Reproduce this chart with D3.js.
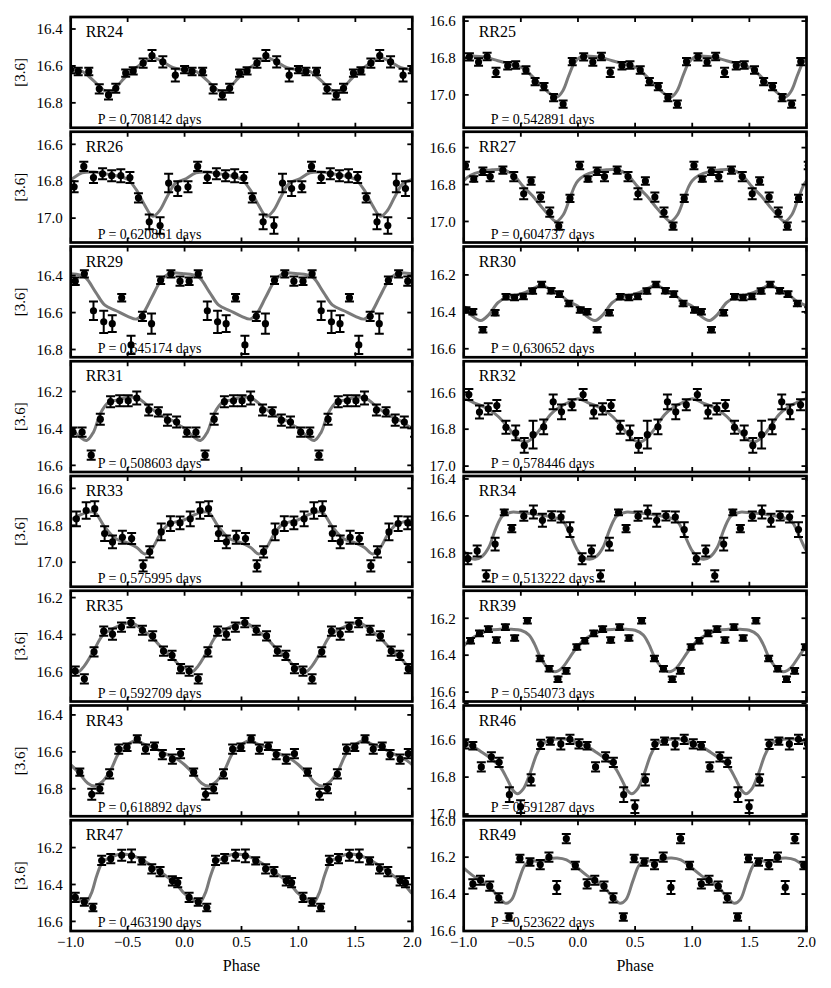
<!DOCTYPE html>
<html>
<head>
<meta charset="utf-8">
<script src="https://cdn.jsdelivr.net/npm/d3@7"></script>
<style>
  body { margin: 0; background: #fff; }
  svg text { font-family: "Liberation Serif", "DejaVu Serif", serif; fill: #000; }
</style>
</head>
<body>
<svg id="chart"></svg>
<script>
const width = 831;
const height = 988;

// panel order: row by row, left then right
const stars = ['RR24', 'RR25', 'RR26', 'RR27', 'RR29', 'RR30', 'RR31', 'RR32',
    'RR33', 'RR34', 'RR35', 'RR39', 'RR43', 'RR46', 'RR47', 'RR49'];
const periods = ['0.708142', '0.542891', '0.620861', '0.604737', '0.645174', '0.630652',
    '0.508603', '0.578446', '0.575995', '0.513222', '0.592709', '0.554073',
    '0.618892', '0.591287', '0.463190', '0.523622'];
// brightest magnitude shown at the top of each panel (each panel spans 0.6 mag)
const magTop = [16.335, 16.578, 16.532, 16.514, 16.242, 16.046, 16.036, 16.432,
    16.533, 16.384, 16.163, 16.051, 16.349, 16.412, 16.052, 16.0];
const magSpan = 0.6;
const phaseTicks = [-1, -0.5, 0, 0.5, 1, 1.5, 2];
const magTicks = [16.0, 16.2, 16.4, 16.6, 16.8, 17.0, 17.2];

// observed phases (one cycle) per star
const phaseData = [
    [0.0, 0.066, 0.159, 0.251, 0.332, 0.396, 0.483, 0.549, 0.636, 0.714, 0.809, 0.919],
    [0.05, 0.13, 0.205, 0.283, 0.385, 0.455, 0.545, 0.625, 0.703, 0.787, 0.87, 0.95],
    [0.03, 0.115, 0.2, 0.28, 0.36, 0.44, 0.52, 0.595, 0.69, 0.785, 0.86, 0.94],
    [0.015, 0.088, 0.168, 0.232, 0.343, 0.438, 0.525, 0.59, 0.673, 0.753, 0.832, 0.93],
    [0.04, 0.12, 0.2, 0.29, 0.365, 0.448, 0.53, 0.63, 0.71, 0.79, 0.88, 0.96],
    [0.02, 0.08, 0.168, 0.275, 0.37, 0.445, 0.522, 0.603, 0.682, 0.765, 0.838, 0.92],
    [0.02, 0.10, 0.18, 0.26, 0.35, 0.43, 0.505, 0.58, 0.685, 0.77, 0.85, 0.93],
    [0.045, 0.138, 0.215, 0.29, 0.37, 0.455, 0.53, 0.607, 0.7, 0.783, 0.856, 0.948],
    [0.05, 0.136, 0.211, 0.298, 0.367, 0.454, 0.535, 0.636, 0.694, 0.795, 0.876, 0.96],
    [0.036, 0.118, 0.197, 0.275, 0.355, 0.421, 0.526, 0.61, 0.689, 0.77, 0.852, 0.93],
    [0.04, 0.12, 0.205, 0.29, 0.367, 0.446, 0.529, 0.63, 0.72, 0.815, 0.89, 0.965],
    [0.06, 0.138, 0.216, 0.286, 0.365, 0.446, 0.557, 0.669, 0.748, 0.825, 0.896, 0.99],
    [0.08, 0.185, 0.255, 0.342, 0.422, 0.495, 0.585, 0.657, 0.736, 0.805, 0.893, 0.965],
    [0.009, 0.08, 0.154, 0.242, 0.31, 0.4, 0.498, 0.59, 0.673, 0.758, 0.85, 0.93],
    [0.04, 0.12, 0.195, 0.272, 0.352, 0.448, 0.534, 0.625, 0.712, 0.785, 0.893, 0.94],
    [0.08, 0.147, 0.228, 0.307, 0.397, 0.492, 0.58, 0.67, 0.746, 0.814, 0.898, 0.977]
];
// [3.6] magnitudes
const magData = [
    [16.62, 16.63, 16.63, 16.724, 16.757, 16.721, 16.639, 16.627, 16.585, 16.544, 16.578, 16.65],
    [16.794, 16.822, 16.792, 16.878, 16.842, 16.838, 16.865, 16.928, 16.955, 17.015, 17.05, 16.82],
    [16.83, 16.72, 16.78, 16.76, 16.77, 16.77, 16.78, 16.89, 17.02, 17.04, 16.81, 16.84],
    [16.697, 16.77, 16.728, 16.757, 16.722, 16.757, 16.85, 16.781, 16.868, 16.95, 17.025, 16.875],
    [16.43, 16.39, 16.59, 16.65, 16.66, 16.52, 16.775, 16.62, 16.66, 16.425, 16.39, 16.43],
    [16.39, 16.40, 16.497, 16.405, 16.318, 16.322, 16.317, 16.287, 16.252, 16.286, 16.304, 16.355],
    [16.42, 16.42, 16.545, 16.35, 16.255, 16.25, 16.25, 16.235, 16.30, 16.31, 16.355, 16.365],
    [16.612, 16.707, 16.69, 16.672, 16.79, 16.82, 16.888, 16.83, 16.788, 16.652, 16.706, 16.668],
    [16.765, 16.72, 16.71, 16.845, 16.89, 16.865, 16.872, 17.02, 16.944, 16.836, 16.791, 16.787],
    [16.832, 16.79, 16.925, 16.753, 16.581, 16.669, 16.602, 16.579, 16.624, 16.6, 16.606, 16.674],
    [16.598, 16.64, 16.494, 16.382, 16.398, 16.36, 16.336, 16.377, 16.408, 16.49, 16.513, 16.585],
    [16.322, 16.282, 16.259, 16.318, 16.248, 16.307, 16.213, 16.418, 16.473, 16.53, 16.485, 16.356],
    [16.71, 16.83, 16.80, 16.72, 16.585, 16.575, 16.53, 16.585, 16.57, 16.615, 16.64, 16.61],
    [16.62, 16.63, 16.745, 16.69, 16.72, 16.895, 16.96, 16.815, 16.622, 16.605, 16.62, 16.595],
    [16.47, 16.495, 16.525, 16.27, 16.26, 16.242, 16.245, 16.272, 16.315, 16.33, 16.38, 16.39],
    [16.345, 16.325, 16.357, 16.42, 16.524, 16.207, 16.226, 16.24, 16.2, 16.364, 16.1, 16.245]
];
// photometric errors (mag)
const errData = [
    [0.02, 0.02, 0.02, 0.025, 0.025, 0.025, 0.02, 0.02, 0.025, 0.03, 0.03, 0.035],
    [0.02, 0.02, 0.02, 0.025, 0.02, 0.02, 0.02, 0.02, 0.02, 0.02, 0.02, 0.02],
    [0.03, 0.025, 0.03, 0.03, 0.03, 0.035, 0.03, 0.025, 0.04, 0.045, 0.05, 0.04],
    [0.02, 0.015, 0.02, 0.025, 0.02, 0.025, 0.03, 0.02, 0.025, 0.025, 0.02, 0.02],
    [0.02, 0.02, 0.05, 0.06, 0.045, 0.02, 0.05, 0.025, 0.055, 0.02, 0.02, 0.025],
    [0.015, 0.015, 0.015, 0.015, 0.015, 0.015, 0.015, 0.015, 0.015, 0.015, 0.015, 0.015],
    [0.025, 0.025, 0.025, 0.03, 0.03, 0.03, 0.03, 0.035, 0.03, 0.025, 0.03, 0.03],
    [0.03, 0.035, 0.03, 0.03, 0.035, 0.04, 0.04, 0.075, 0.04, 0.04, 0.04, 0.03],
    [0.04, 0.045, 0.04, 0.04, 0.035, 0.035, 0.03, 0.03, 0.03, 0.045, 0.04, 0.035],
    [0.03, 0.03, 0.03, 0.035, 0.015, 0.02, 0.025, 0.035, 0.035, 0.025, 0.03, 0.04],
    [0.025, 0.025, 0.025, 0.025, 0.03, 0.025, 0.025, 0.025, 0.025, 0.025, 0.025, 0.025],
    [0.015, 0.015, 0.015, 0.015, 0.015, 0.015, 0.015, 0.015, 0.015, 0.015, 0.015, 0.015],
    [0.02, 0.03, 0.025, 0.025, 0.025, 0.02, 0.02, 0.025, 0.02, 0.025, 0.025, 0.025],
    [0.025, 0.02, 0.025, 0.025, 0.025, 0.04, 0.035, 0.03, 0.025, 0.02, 0.03, 0.025],
    [0.025, 0.02, 0.02, 0.025, 0.025, 0.03, 0.035, 0.02, 0.025, 0.025, 0.025, 0.025],
    [0.025, 0.025, 0.025, 0.025, 0.02, 0.02, 0.02, 0.025, 0.025, 0.035, 0.025, 0.02]
];
// template fit: [phase, mag] over one cycle
const fitData = [
    [[0.0, 16.62], [0.1, 16.63], [0.2, 16.68], [0.3, 16.735], [0.36, 16.74], [0.45, 16.68], [0.55, 16.62], [0.65, 16.58], [0.72, 16.555], [0.8, 16.575], [0.9, 16.61]],
    [[0.02, 16.795], [0.1, 16.79], [0.18, 16.795], [0.3, 16.815], [0.42, 16.835], [0.52, 16.855], [0.6, 16.9], [0.68, 16.95], [0.76, 16.995], [0.82, 17.01], [0.87, 16.975], [0.92, 16.895], [0.97, 16.825]],
    [[0.0, 16.79], [0.1, 16.755], [0.2, 16.75], [0.3, 16.76], [0.4, 16.77], [0.5, 16.79], [0.58, 16.85], [0.65, 16.93], [0.72, 16.99], [0.78, 16.96], [0.85, 16.88], [0.92, 16.81]],
    [[0.0, 16.78], [0.06, 16.75], [0.15, 16.73], [0.25, 16.72], [0.34, 16.72], [0.43, 16.745], [0.52, 16.81], [0.6, 16.86], [0.68, 16.92], [0.75, 16.97], [0.81, 17.0], [0.87, 16.965], [0.92, 16.89], [0.97, 16.81]],
    [[0.0, 16.39], [0.07, 16.395], [0.13, 16.41], [0.22, 16.49], [0.3, 16.56], [0.4, 16.59], [0.5, 16.62], [0.58, 16.635], [0.64, 16.6], [0.71, 16.52], [0.79, 16.43], [0.86, 16.39], [0.93, 16.385]],
    [[0.0, 16.37], [0.07, 16.42], [0.15, 16.447], [0.22, 16.415], [0.3, 16.35], [0.38, 16.32], [0.46, 16.31], [0.54, 16.295], [0.62, 16.27], [0.68, 16.255], [0.76, 16.28], [0.84, 16.305], [0.92, 16.345]],
    [[0.0, 16.40], [0.07, 16.44], [0.14, 16.465], [0.2, 16.42], [0.26, 16.32], [0.33, 16.26], [0.42, 16.245], [0.52, 16.23], [0.6, 16.24], [0.7, 16.29], [0.8, 16.33], [0.9, 16.36], [0.96, 16.385]],
    [[0.0, 16.635], [0.1, 16.66], [0.2, 16.685], [0.3, 16.73], [0.4, 16.8], [0.47, 16.85], [0.54, 16.87], [0.6, 16.85], [0.68, 16.79], [0.76, 16.72], [0.84, 16.68], [0.92, 16.655]],
    [[0.0, 16.77], [0.08, 16.745], [0.15, 16.73], [0.21, 16.73], [0.3, 16.81], [0.39, 16.87], [0.5, 16.895], [0.58, 16.92], [0.65, 16.955], [0.71, 16.93], [0.78, 16.855], [0.85, 16.8], [0.93, 16.78]],
    [[0.0, 16.79], [0.05, 16.825], [0.1, 16.835], [0.16, 16.82], [0.22, 16.77], [0.28, 16.67], [0.34, 16.6], [0.42, 16.58], [0.52, 16.585], [0.62, 16.59], [0.72, 16.6], [0.8, 16.61], [0.87, 16.63], [0.93, 16.7]],
    [[0.0, 16.58], [0.06, 16.605], [0.12, 16.57], [0.2, 16.49], [0.28, 16.405], [0.38, 16.365], [0.46, 16.345], [0.53, 16.335], [0.62, 16.37], [0.72, 16.42], [0.82, 16.485], [0.9, 16.53], [0.96, 16.57]],
    [[0.0, 16.35], [0.07, 16.31], [0.14, 16.285], [0.22, 16.265], [0.32, 16.26], [0.42, 16.26], [0.5, 16.265], [0.57, 16.29], [0.62, 16.34], [0.67, 16.41], [0.73, 16.465], [0.8, 16.49], [0.86, 16.47], [0.93, 16.41]],
    [[0.0, 16.67], [0.08, 16.72], [0.15, 16.77], [0.21, 16.785], [0.28, 16.76], [0.35, 16.7], [0.42, 16.61], [0.49, 16.565], [0.57, 16.54], [0.65, 16.56], [0.74, 16.58], [0.83, 16.61], [0.92, 16.635]],
    [[0.0, 16.615], [0.08, 16.635], [0.16, 16.665], [0.24, 16.7], [0.32, 16.745], [0.38, 16.81], [0.43, 16.87], [0.47, 16.89], [0.52, 16.865], [0.58, 16.78], [0.64, 16.675], [0.7, 16.615], [0.8, 16.595], [0.9, 16.595]],
    [[0.0, 16.45], [0.07, 16.48], [0.13, 16.5], [0.18, 16.45], [0.23, 16.35], [0.28, 16.28], [0.36, 16.25], [0.45, 16.235], [0.55, 16.245], [0.65, 16.275], [0.75, 16.315], [0.85, 16.36], [0.93, 16.4]],
    [[0.0, 16.26], [0.08, 16.3], [0.16, 16.33], [0.24, 16.37], [0.31, 16.42], [0.37, 16.45], [0.42, 16.43], [0.48, 16.33], [0.54, 16.24], [0.6, 16.22], [0.67, 16.225], [0.74, 16.21], [0.82, 16.205], [0.9, 16.215], [0.96, 16.24]]
];

// layout
const colLeft = [70.7, 463.7];
const colWidth = [341.6, 342.8];
const firstTop = 17;
const rowStep = 114.75;
const panelH = 110.75;
const fmt = d3.format('.1f');
const serif = '"Liberation Serif", "DejaVu Serif", serif';

const svg = d3.select('#chart')
    .attr('width', width)
    .attr('height', height)
    .attr('font-family', serif);
svg.append('rect')
    .attr('width', width)
    .attr('height', height)
    .attr('fill', '#fff');
const defs = svg.append('defs');

const line = d3.line().curve(d3.curveCatmullRom.alpha(0.5));

stars.forEach((name, i) => {
    const col = i % 2;
    const row = Math.floor(i / 2);
    const x0 = colLeft[col];
    const w = colWidth[col];
    const y0 = firstTop + row * rowStep;

    const x = d3.scaleLinear().domain([-1, 2]).range([x0, x0 + w]);
    const y = d3.scaleLinear().domain([magTop[i], magTop[i] + magSpan]).range([y0, y0 + panelH]);

    defs.append('clipPath')
        .attr('id', `clip${i}`)
        .append('rect')
        .attr('x', x0)
        .attr('y', y0)
        .attr('width', w)
        .attr('height', panelH);

    const g = svg.append('g').classed('panel', true);

    // labels inside panel
    g.append('text')
        .attr('x', x0 + 15)
        .attr('y', y0 + 20)
        .style('font-size', '16px')
        .text(name);
    g.append('text')
        .attr('x', x0 + 27)
        .attr('y', y0 + panelH - 4)
        .style('font-size', '14px')
        .text(`P = ${periods[i]} days`);

    const plot = g.append('g').attr('clip-path', `url(#clip${i})`);

    // template curve repeated over the phase range
    const knots = [];
    [-2, -1, 0, 1, 2].forEach(k => {
        fitData[i].forEach(([p, m]) => {
            if (p + k > -1.4 && p + k < 2.4) {
                knots.push([p + k, m]);
            }
        });
    });
    plot.append('path')
        .attr('d', line(knots.map(([p, m]) => [x(p), y(m)])))
        .attr('fill', 'none')
        .attr('stroke', '#7a7a7a')
        .attr('stroke-width', 3);

    // points with error bars, folded three times
    const pts = [];
    [-1, 0, 1, 2].forEach(k => {
        phaseData[i].forEach((p, j) => {
            if (p + k >= -1.03 && p + k <= 2.03) {
                pts.push({ p: p + k, m: magData[i][j], e: errData[i][j] });
            }
        });
    });
    const pt = plot.selectAll('g.pt')
        .data(pts)
        .enter().append('g')
        .classed('pt', true);
    pt.append('line')
        .attr('x1', d => x(d.p))
        .attr('x2', d => x(d.p))
        .attr('y1', d => y(d.m - d.e))
        .attr('y2', d => y(d.m + d.e))
        .attr('stroke', '#000')
        .attr('stroke-width', 2);
    [-1, 1].forEach(s => {
        pt.append('line')
            .attr('x1', d => x(d.p) - 4.5)
            .attr('x2', d => x(d.p) + 4.5)
            .attr('y1', d => y(d.m + s * d.e))
            .attr('y2', d => y(d.m + s * d.e))
            .attr('stroke', '#000')
            .attr('stroke-width', 2);
    });
    pt.append('circle')
        .attr('cx', d => x(d.p))
        .attr('cy', d => y(d.m))
        .attr('r', 3.6)
        .attr('fill', '#000');

    // ticks
    const yt = magTicks.filter(v => v >= magTop[i] - 0.012 && v <= magTop[i] + magSpan + 0.005);
    yt.forEach(v => {
        g.append('line')
            .attr('x1', x0).attr('x2', x0 + 5)
            .attr('y1', y(v)).attr('y2', y(v))
            .attr('stroke', '#000').attr('stroke-width', 1.8);
        g.append('line')
            .attr('x1', x0 + w - 5).attr('x2', x0 + w)
            .attr('y1', y(v)).attr('y2', y(v))
            .attr('stroke', '#000').attr('stroke-width', 1.8);
        g.append('text')
            .attr('x', x0 - 8)
            .attr('y', y(v))
            .attr('dy', '0.35em')
            .attr('text-anchor', 'end')
            .style('font-size', '15px')
            .text(fmt(v));
    });
    phaseTicks.forEach(v => {
        g.append('line')
            .attr('x1', x(v)).attr('x2', x(v))
            .attr('y1', y0).attr('y2', y0 + 5)
            .attr('stroke', '#000').attr('stroke-width', 1.8);
        g.append('line')
            .attr('x1', x(v)).attr('x2', x(v))
            .attr('y1', y0 + panelH - 5).attr('y2', y0 + panelH)
            .attr('stroke', '#000').attr('stroke-width', 1.8);
        if (row === 7) {
            g.append('text')
                .attr('x', x(v))
                .attr('y', y0 + panelH + 16)
                .attr('text-anchor', 'middle')
                .style('font-size', '15px')
                .text(fmt(v));
        }
    });

    // frame
    g.append('rect')
        .attr('x', x0)
        .attr('y', y0)
        .attr('width', w)
        .attr('height', panelH)
        .attr('fill', 'none')
        .attr('stroke', '#000')
        .attr('stroke-width', 2.7);

    if (col === 0) {
        g.append('text')
            .attr('transform', `translate(25, ${y0 + panelH / 2}) rotate(-90)`)
            .attr('text-anchor', 'middle')
            .style('font-size', '15px')
            .text('[3.6]');
    }
    if (row === 7) {
        g.append('text')
            .attr('x', x0 + w / 2)
            .attr('y', y0 + panelH + 40)
            .attr('text-anchor', 'middle')
            .style('font-size', '16px')
            .text('Phase');
    }
});
</script>
</body>
</html>
